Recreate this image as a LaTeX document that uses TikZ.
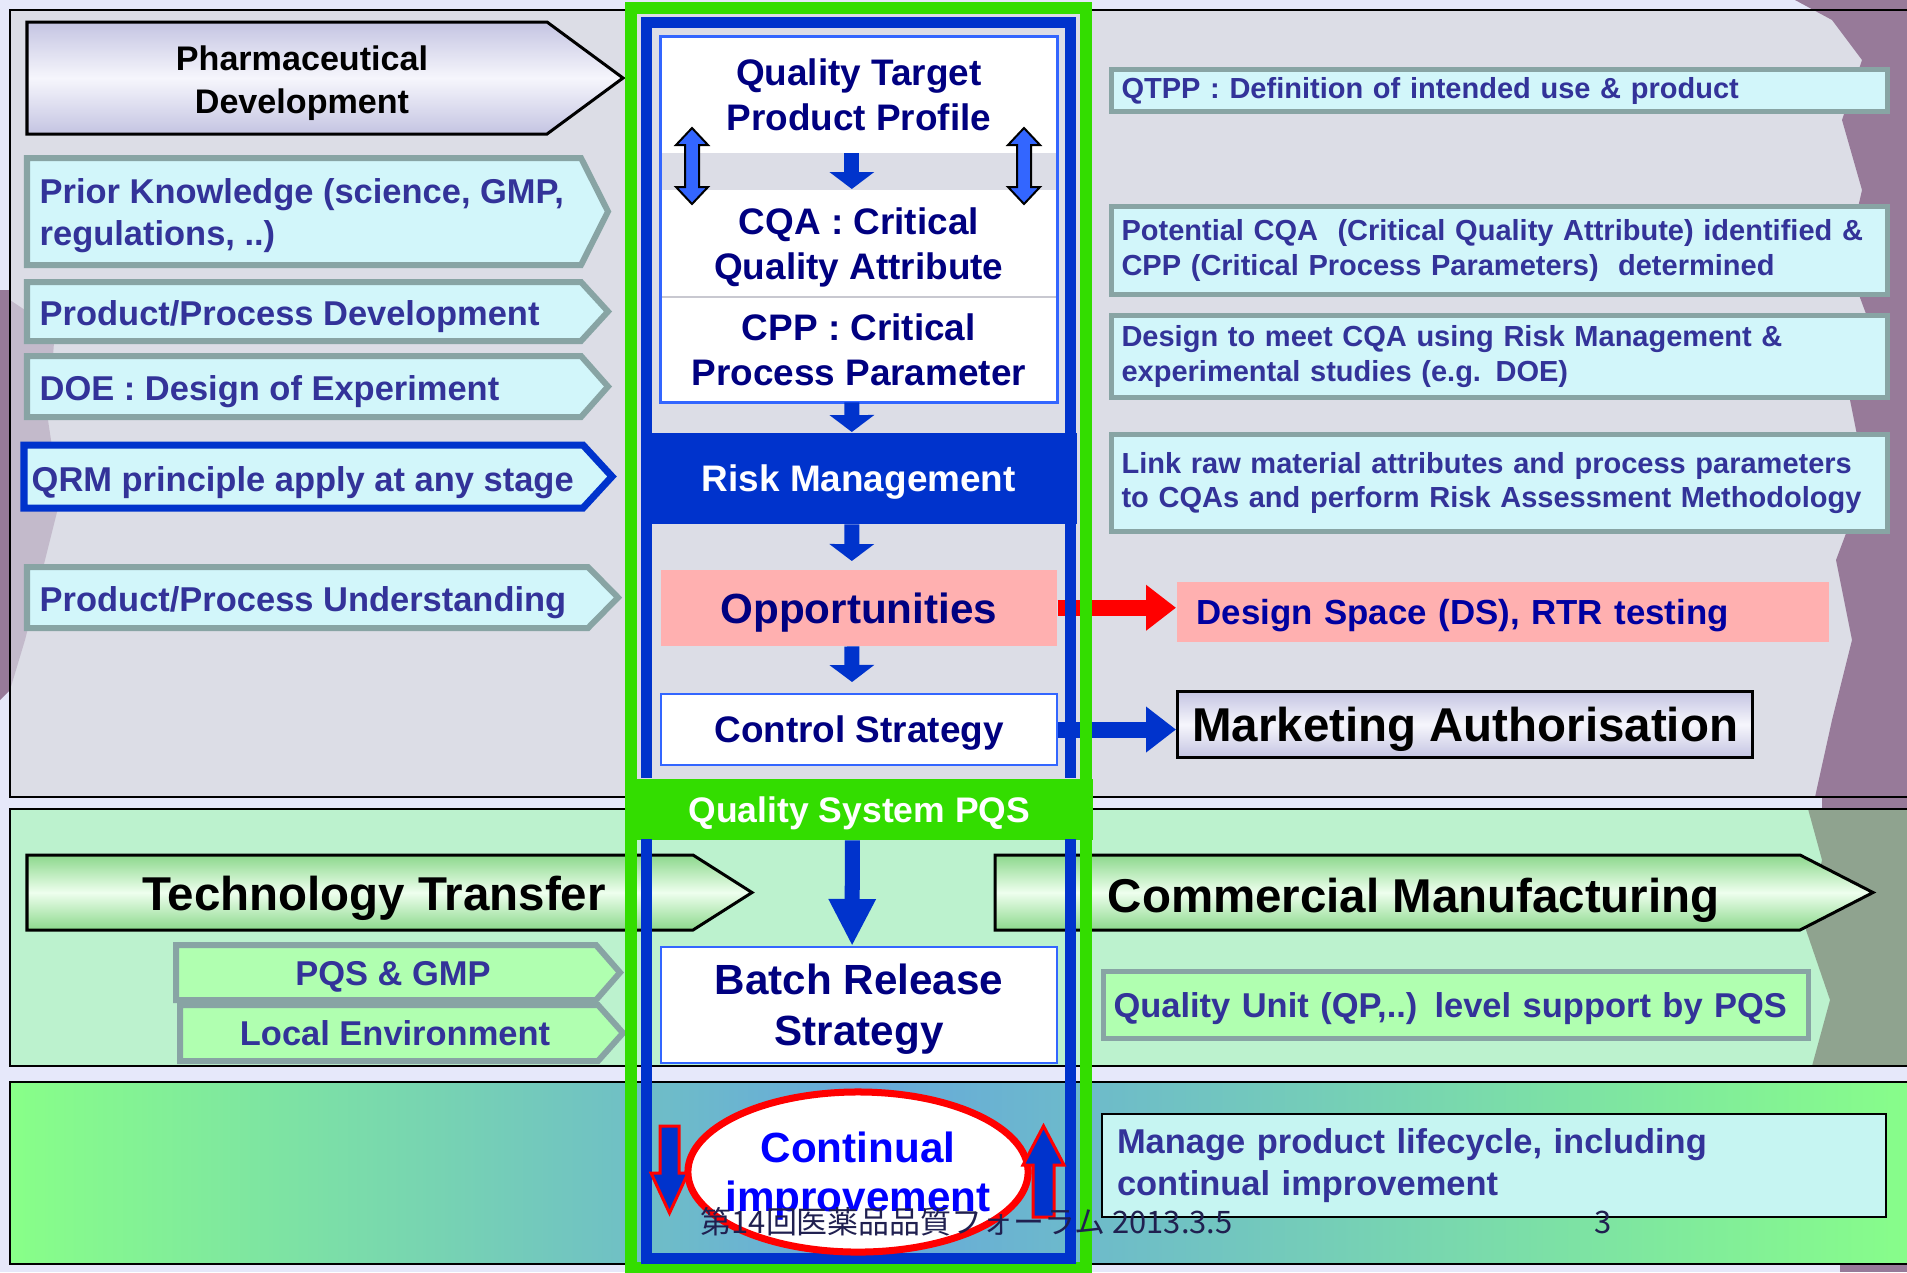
\documentclass[tikz,border=0pt]{standalone}
\usepackage{fontspec}
\setmainfont{Liberation Sans}
\newfontfamily\jpfont{Noto Sans CJK JP}
\usepackage{tikz}
\usetikzlibrary{arrows.meta, shapes.geometric, positioning}

\definecolor{pagebg}{HTML}{E6E8FA}
\definecolor{panelgray}{HTML}{DCDDE6}
\definecolor{panelgreen}{HTML}{BCF2CE}
\definecolor{cyanfill}{HTML}{D2F6FA}
\definecolor{tagborder}{HTML}{88A4A4}
\definecolor{sideblue}{HTML}{333399}
\definecolor{navy}{HTML}{000080}
\definecolor{frameblue}{HTML}{0033CC}
\definecolor{framegreen}{HTML}{33DD00}
\definecolor{pinkfill}{HTML}{FFB0B0}
\definecolor{lgreenfill}{HTML}{B0FFB0}
\definecolor{boxblue}{HTML}{3366FF}
\definecolor{lav}{HTML}{C4C4E2}
\definecolor{lavlight}{HTML}{F6F6FC}
\definecolor{tagg}{HTML}{8CD88C}
\definecolor{taggl}{HTML}{EEFFEE}
\definecolor{contblue}{HTML}{0000FF}
\definecolor{dsblue}{HTML}{0000A0}
\definecolor{figpurple}{HTML}{977A99}
\definecolor{figgreen}{HTML}{8FA38F}
\definecolor{manfill}{HTML}{C6F5F2}
\definecolor{footcol}{HTML}{202050}
\definecolor{shgreen}{HTML}{88FF88}
\definecolor{shblue}{HTML}{66A8DC}
\definecolor{sepgray}{HTML}{C8C8D0}

\newcommand{\fTag}{\fontsize{9.8}{11.7}\selectfont\bfseries}
\newcommand{\fNote}{\fontsize{8.25}{9.7}\selectfont\bfseries}
\newcommand{\fPharma}{\fontsize{9.7}{12.2}\selectfont\bfseries}
\newcommand{\fBanner}{\fontsize{13.5}{16}\selectfont\bfseries}
\newcommand{\fCol}{\fontsize{10.5}{12.8}\selectfont\bfseries}
\newcommand{\fColBig}{\fontsize{12}{14.5}\selectfont\bfseries}
\newcommand{\fFoot}{\fontsize{8.8}{10.5}\selectfont\jpfont}

\tikzset{
  panelline/.style={draw=black, line width=0.02cm},
  lefttag/.style={fill=cyanfill, draw=tagborder, line width=0.06cm},
  qrmtag/.style={fill=cyanfill, draw=frameblue, line width=0.07cm},
  lavtag/.style={top color=lav, bottom color=lav, middle color=lavlight, draw=black, line width=0.03cm},
  greentag/.style={top color=tagg, bottom color=tagg, middle color=taggl, draw=black, line width=0.03cm},
  lgreentag/.style={fill=lgreenfill, draw=tagborder, line width=0.06cm},
  tagtext/.style={anchor=west, inner sep=0pt, text depth=0pt, align=left, text=sideblue, font=\fTag},
  notebox/.style={anchor=north west, fill=cyanfill, draw=tagborder, line width=0.05cm,
    inner xsep=0.1cm, inner ysep=0pt, minimum width=7.76cm, text width=7.56cm,
    align=left, text=sideblue, font=\fNote},
  colbox/.style={anchor=north west, fill=white, minimum width=3.96cm, inner sep=0pt,
    text depth=0pt, align=center, text=navy, font=\fCol},
  colarrow/.style={draw=frameblue, line width=0.15cm, -{Triangle[width=0.44cm,length=0.17cm]}},
  bigarrow/.style={draw=frameblue, line width=0.15cm, -{Triangle[width=0.44cm,length=0.47cm]}},
  sidearrow/.style={line width=0.16cm, -{Triangle[width=0.44cm,length=0.30cm]}},
  dblarrow/.style={fill=boxblue, draw=black, line width=0.02cm},
  looparrow/.style={fill=frameblue, draw=red, line width=0.03cm},
}

% arrow shaped tag: style, left, top, shoulder, tip, bottom
\newcommand{\tagpath}[6]{%
  \draw[#1] (#2,#3) -- (#4,#3) -- (#5,{(#3+#6)/2}) -- (#4,#6) -- (#2,#6) -- cycle;}
% up/down block arrow: x, top, bottom
\newcommand{\updown}[3]{%
  \draw[dblarrow] (#1,#2) -- ({#1+16},{#2+17}) -- ({#1+7},{#2+17}) -- ({#1+7},{#3-17})
    -- ({#1+16},{#3-17}) -- (#1,#3) -- ({#1-16},{#3-17}) -- ({#1-7},{#3-17})
    -- ({#1-7},{#2+17}) -- ({#1-16},{#2+17}) -- cycle;}

\begin{document}
\begin{tikzpicture}[x=0.01cm, y=-0.01cm]
    % Canvas
    \useasboundingbox (0,0) rectangle (1907,1272);
    \fill[pagebg] (0,0) rectangle (1907,1272);

    % Panels
    \fill[panelgray] (10,10) rectangle (1930,797);
    \fill[panelgreen] (10,809) rectangle (1930,1066);

    % Figure in the background
    \fill[figpurple] (1795,0) -- (1907,0) -- (1907,797) -- (1815,797) -- (1832,720)
        -- (1852,640) -- (1836,560) -- (1866,480) -- (1850,400) -- (1872,330)
        -- (1846,260) -- (1862,190) -- (1842,120) -- (1862,60) -- (1832,20) -- cycle;
    \fill[figpurple] (1822,797) rectangle (1907,809);
    \fill[figgreen] (1808,809) -- (1907,809) -- (1907,1066) -- (1812,1066) -- (1830,1000)
        -- (1806,930) -- (1822,860) -- cycle;
    \fill[figpurple] (1840,1264) rectangle (1907,1272);
    \fill[figpurple] (0,290) -- (10,290) -- (10,690) -- (0,700) -- cycle;
    \fill[figpurple, opacity=0.35] (10,300) -- (55,330) -- (48,420) -- (60,500)
        -- (40,580) -- (25,640) -- (10,690) -- cycle;

    % Lifecycle panel
    \shade[left color=shgreen, right color=shblue] (10,1082) rectangle (860,1264);
    \shade[left color=shblue, right color=shgreen] (860,1082) rectangle (1930,1264);
    \draw[panelline] (10,10) rectangle (1930,797);
    \draw[panelline] (10,809) rectangle (1930,1066);
    \draw[panelline] (10,1082) rectangle (1930,1264);

    % Development tags
    \tagpath{lavtag}{27}{22}{547}{623}{134}
    \node[font=\fPharma, align=center, inner sep=0pt, text depth=0pt] (pharma) at (302,80) {Pharmaceutical\\Development};
    \tagpath{lefttag}{27}{158}{581}{608}{265}
    \node[tagtext] (prior) at (39,212) {Prior Knowledge (science, GMP,\\regulations, ..)};
    \tagpath{lefttag}{27}{282}{581}{608}{341}
    \node[tagtext] (ppdev) at (39,313) {Product/Process Development};
    \tagpath{lefttag}{27}{356}{581}{608}{417}
    \node[tagtext] (doe) at (39,388) {DOE : Design of Experiment};
    \tagpath{qrmtag}{24}{445}{583}{612}{508}
    \node[tagtext] (qrm) at (31,479) {QRM principle apply at any stage};
    \tagpath{lefttag}{27}{567}{588}{618}{628}
    \node[tagtext] (ppund) at (39,599) {Product/Process Understanding};

    % Notes on the right
    \node[notebox, minimum height=0.42cm] (qtppnote) at (1109,67)
        {QTPP : Definition of intended use \& product};
    \node[notebox, minimum height=0.88cm] (cqanote) at (1109,204)
        {Potential CQA\ \ (Critical Quality Attribute) identified \&\\CPP (Critical Process Parameters)\ \ determined};
    \node[notebox, minimum height=0.82cm] (doenote) at (1109,313)
        {Design to meet CQA using Risk Management \&\\experimental studies (e.g. DOE)};
    \node[notebox, minimum height=0.97cm] (linknote) at (1109,432)
        {Link raw material attributes and process parameters\\to CQAs and perform Risk Assessment Methodology};
    \node[anchor=north west, fill=pinkfill, minimum width=6.52cm, minimum height=0.60cm,
        inner xsep=0.2cm, inner ysep=0pt, text depth=0pt, text width=6.12cm, align=left, text=dsblue,
        font=\fontsize{9.9}{11.8}\selectfont\bfseries] (ds) at (1176,581) {Design Space (DS), RTR testing};
    \node[anchor=north west, lavtag, minimum width=5.75cm, minimum height=0.66cm,
        inner sep=0pt, text depth=0pt, font=\fBanner] (ma) at (1176,690) {Marketing Authorisation};

    % Transfer and manufacturing
    \tagpath{greentag}{27}{855}{693}{752}{930}
    \node[font=\fBanner, inner sep=0pt, text depth=0pt] (techtr) at (374,893) {Technology Transfer};
    \tagpath{greentag}{995}{855}{1800}{1873}{930}
    \node[font=\fBanner, inner sep=0pt, text depth=0pt, anchor=west] (commf) at (1107,895) {Commercial Manufacturing};
    \tagpath{lgreentag}{176}{945}{596}{620}{1000}
    \node[font=\fTag, text=sideblue, inner sep=0pt, text depth=0pt] (pqsgmp) at (393,973) {PQS \& GMP};
    \tagpath{lgreentag}{180}{1005}{598}{623}{1061}
    \node[font=\fTag, text=sideblue, inner sep=0pt, text depth=0pt] (localenv) at (395,1033) {Local Environment};
    \node[notebox, fill=lgreenfill, minimum width=7.05cm, text width=6.85cm, minimum height=0.67cm,
        text depth=0pt, font=\fTag] (qunit) at (1101,969) {Quality Unit (QP,..) level support by PQS};
    \node[notebox, fill=manfill, draw=black, line width=0.02cm, minimum width=7.84cm,
        text width=7.54cm, inner xsep=0.15cm, minimum height=1.03cm, font=\fTag] (manage) at (1101,1113)
        {Manage product lifecycle, including\\continual improvement};

    % Central column
    \node[colbox, minimum height=1.16cm] (qtpp) at (660,36) {Quality Target\\Product Profile};
    \node[colbox, minimum height=1.07cm] (cqa) at (660,189) {CQA : Critical\\Quality Attribute};
    \node[colbox, minimum height=1.05cm] (cpp) at (660,296) {CPP : Critical\\Process Parameter};
    \draw[sepgray, line width=0.02cm] (cqa.south west) -- (cqa.south east);
    \draw[boxblue, line width=0.03cm] (qtpp.north west) rectangle (cpp.south east);
    \updown{692}{128}{204}
    \updown{1024}{128}{204}
    \node[anchor=north west, fill=frameblue, minimum width=4.36cm, minimum height=0.91cm,
        inner sep=0pt, text depth=0pt, text=white, font=\fCol] (risk) at (640,432) {Risk Management};
    \node[colbox, fill=pinkfill, minimum height=0.76cm, font=\fColBig] (opp) at (660,569) {Opportunities};
    \node[colbox, draw=boxblue, line width=0.02cm, minimum height=0.71cm] (ctrl) at (660,693) {Control Strategy};
    \node[anchor=north west, fill=framegreen, minimum width=4.67cm, minimum height=0.61cm,
        inner sep=0pt, text depth=0pt, text=white, font=\fontsize{10.1}{12}\selectfont\bfseries] (pqs) at (625,778) {Quality System PQS};
    \node[colbox, draw=boxblue, line width=0.02cm, minimum height=1.16cm, font=\fColBig] (batch) at (660,946)
        {Batch Release\\Strategy};

    % Connectors
    \draw[colarrow] ([xshift=-0.07cm]qtpp.south) -- ([xshift=-0.07cm]cqa.north);
    \draw[colarrow] ([xshift=-0.07cm]cpp.south) -- ([xshift=-0.07cm]risk.north);
    \draw[colarrow, shorten >=0.08cm] ([xshift=-0.07cm]risk.south) -- ([xshift=-0.07cm]opp.north);
    \draw[colarrow, shorten >=0.11cm] ([xshift=-0.07cm]opp.south) -- ([xshift=-0.07cm]ctrl.north);
    \draw[bigarrow] ([xshift=-0.07cm]pqs.south) -- ([xshift=-0.07cm]batch.north);
    \draw[sidearrow, red] (opp.east) -- (opp.east -| ds.west);
    \draw[sidearrow, frameblue] (ctrl.east) -- (ctrl.east -| ma.west);

    % Frames
    \draw[framegreen, line width=0.12cm] (631,8) rectangle (1086,1268);
    \draw[frameblue, line width=0.11cm] (646,778) -- (646,22) -- (1070,22) -- (1070,778);
    \draw[frameblue, line width=0.11cm] (646,839) -- (646,1258) -- (1070,1258) -- (1070,839);

    % Continual improvement
    \node[ellipse, draw=red, line width=0.07cm, fill=white, minimum width=3.40cm,
        minimum height=1.60cm, inner sep=0pt] (cont) at (858,1172) {};
    \node[text=contblue, font=\fontsize{12}{13.7}\selectfont\bfseries, align=center,
        inner sep=0pt] (conttext) at (858,1176) {Continual\\improvement};
    \draw[looparrow] (660,1126) -- (679,1126) -- (679,1173) -- (688,1173) -- (669.5,1213)
        -- (651,1173) -- (660,1173) -- cycle;
    \draw[looparrow] (1033,1217) -- (1054,1217) -- (1054,1165) -- (1064,1165) -- (1043.5,1126)
        -- (1023,1165) -- (1033,1165) -- cycle;

    % Footer
    \node[anchor=base west, inner sep=0pt, text=footcol, font=\fFoot] (foot) at (700,1233)
        {第14回医薬品品質フォーラム 2013.3.5};
    \node[anchor=base, inner sep=0pt, text=footcol, font=\fFoot] (pageno) at (1603,1233) {3};
\end{tikzpicture}
\end{document}
